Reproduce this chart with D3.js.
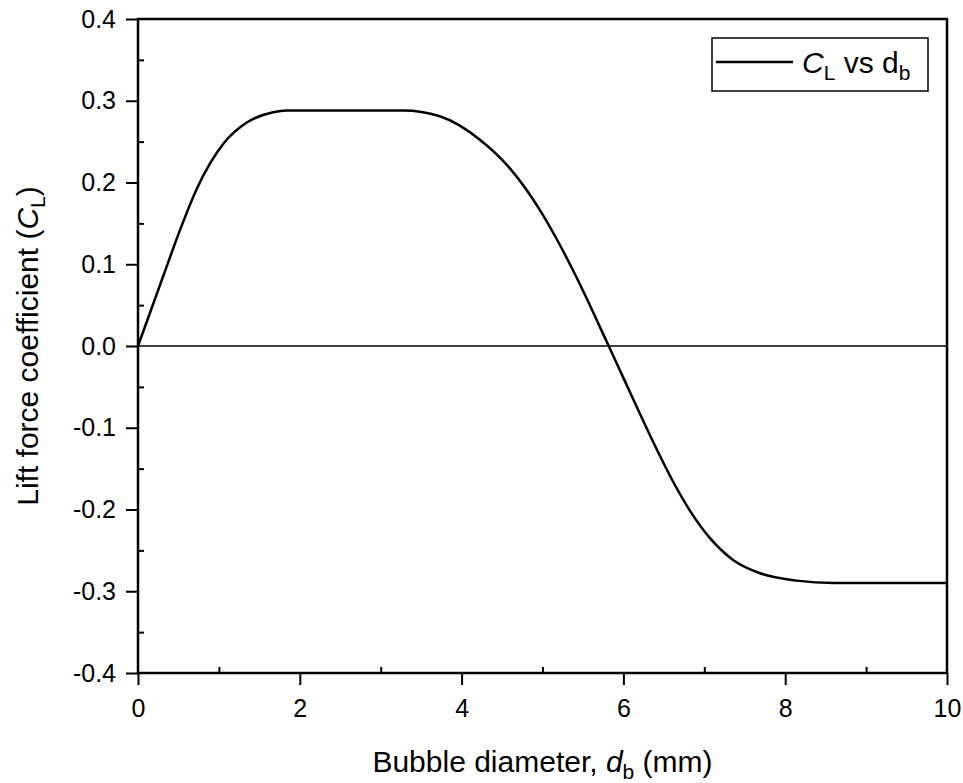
<!DOCTYPE html>
<html>
<head>
<meta charset="utf-8">
<script src="https://cdn.jsdelivr.net/npm/d3@7"></script>
<style>
  body { margin: 0; background: #fff; }
  text { font-family: "Liberation Sans", Arial, sans-serif; fill: #000; }
</style>
</head>
<body>
<svg id="chart" width="963" height="783"></svg>
<script>
// bubble diameter (mm) and lift coefficient
const diam = [0, 0.31, 0.52, 0.73, 1.06, 1.34, 1.67, 1.84, 2.5, 3.28, 3.73, 4.23, 4.6, 4.97, 5.18, 5.38, 5.59, 5.79, 6.0, 6.2, 6.41, 6.62, 6.82, 7.07, 7.36, 7.69, 8.14, 8.6, 9.2, 10];
const liftCoef = [0, 0.085, 0.142, 0.193, 0.248, 0.273, 0.286, 0.288, 0.288, 0.288, 0.281, 0.252, 0.217, 0.166, 0.13, 0.092, 0.049, 0.006, -0.039, -0.082, -0.126, -0.167, -0.201, -0.235, -0.262, -0.278, -0.287, -0.29, -0.29, -0.29];
const xTicks = [0, 2, 4, 6, 8, 10];
const xMinor = [1, 3, 5, 7, 9];
const yTicks = [-0.4, -0.3, -0.2, -0.1, 0, 0.1, 0.2, 0.3, 0.4];
const yMinor = [-0.35, -0.25, -0.15, -0.05, 0.05, 0.15, 0.25, 0.35];

const svg = d3.select('#chart');
const mLeft = 138, mRight = 947, mTop = 19, mBottom = 673;

const x = d3.scaleLinear().domain([0, 10]).range([mLeft, mRight]);
const y = d3.scaleLinear().domain([-0.4, 0.4]).range([mBottom, mTop]);

const points = diam.map((d, i) => ({x: d, y: liftCoef[i]}));

// axes: major ticks outward, minor ticks inward
const gx = svg.append('g').attr('transform', `translate(0,${mBottom})`)
  .call(d3.axisBottom(x).tickValues(xTicks).tickSize(12).tickPadding(14).tickFormat(d3.format('d')));
const gxm = svg.append('g').attr('transform', `translate(0,${mBottom})`)
  .call(d3.axisBottom(x).tickValues(xMinor).tickSize(-6).tickFormat(''));
const gy = svg.append('g').attr('transform', `translate(${mLeft},0)`)
  .call(d3.axisLeft(y).tickValues(yTicks).tickSize(12).tickPadding(10).tickFormat(d => d.toFixed(1)));
const gym = svg.append('g').attr('transform', `translate(${mLeft},0)`)
  .call(d3.axisLeft(y).tickValues(yMinor).tickSize(-6).tickFormat(''));

[gx, gxm, gy, gym].forEach(g => {
  g.select('.domain').remove();
  g.selectAll('line').attr('stroke', '#000').attr('stroke-width', 2);
  g.selectAll('text').style('font-size', '25px').attr('fill', '#000');
});

// zero line
svg.append('line')
  .attr('x1', x(0)).attr('x2', x(10))
  .attr('y1', y(0)).attr('y2', y(0))
  .attr('stroke', '#000').attr('stroke-width', 1.5);

// curve
const line = d3.line().x(d => x(d.x)).y(d => y(d.y)).curve(d3.curveMonotoneX);
svg.append('path')
  .datum(points)
  .attr('d', line)
  .attr('fill', 'none')
  .attr('stroke', '#000')
  .attr('stroke-width', 2.5);

// frame
svg.append('rect')
  .attr('x', mLeft).attr('y', mTop)
  .attr('width', mRight - mLeft).attr('height', mBottom - mTop)
  .attr('fill', 'none').attr('stroke', '#000').attr('stroke-width', 2.5);

// axis titles
const xt = svg.append('text')
  .attr('x', (mLeft + mRight) / 2).attr('y', 772)
  .attr('text-anchor', 'middle').style('font-size', '30px');
xt.append('tspan').text('Bubble diameter, ');
xt.append('tspan').style('font-style', 'italic').text('d');
xt.append('tspan').attr('dy', 7).style('font-size', '21px').text('b');
xt.append('tspan').attr('dy', -7).text(' (mm)');

const yt = svg.append('text')
  .attr('transform', `translate(38,${(mTop + mBottom) / 2}) rotate(-90)`)
  .attr('text-anchor', 'middle').style('font-size', '30px');
yt.append('tspan').text('Lift force coefficient (');
yt.append('tspan').style('font-style', 'italic').text('C');
yt.append('tspan').attr('dy', 7).style('font-size', '21px').text('L');
yt.append('tspan').attr('dy', -7).text(')');

// legend
const lg = svg.append('g');
lg.append('rect').attr('x', 712).attr('y', 38).attr('width', 216).attr('height', 53)
  .attr('fill', '#fff').attr('stroke', '#000').attr('stroke-width', 1.5);
lg.append('line').attr('x1', 716).attr('x2', 793).attr('y1', 62).attr('y2', 62)
  .attr('stroke', '#000').attr('stroke-width', 2.5);
const lt = lg.append('text').attr('x', 802).attr('y', 73).style('font-size', '30px');
lt.append('tspan').style('font-style', 'italic').text('C');
lt.append('tspan').attr('dy', 7).style('font-size', '21px').text('L');
lt.append('tspan').attr('dy', -7).text(' vs d');
lt.append('tspan').attr('dy', 7).style('font-size', '21px').text('b');
</script>
</body>
</html>
